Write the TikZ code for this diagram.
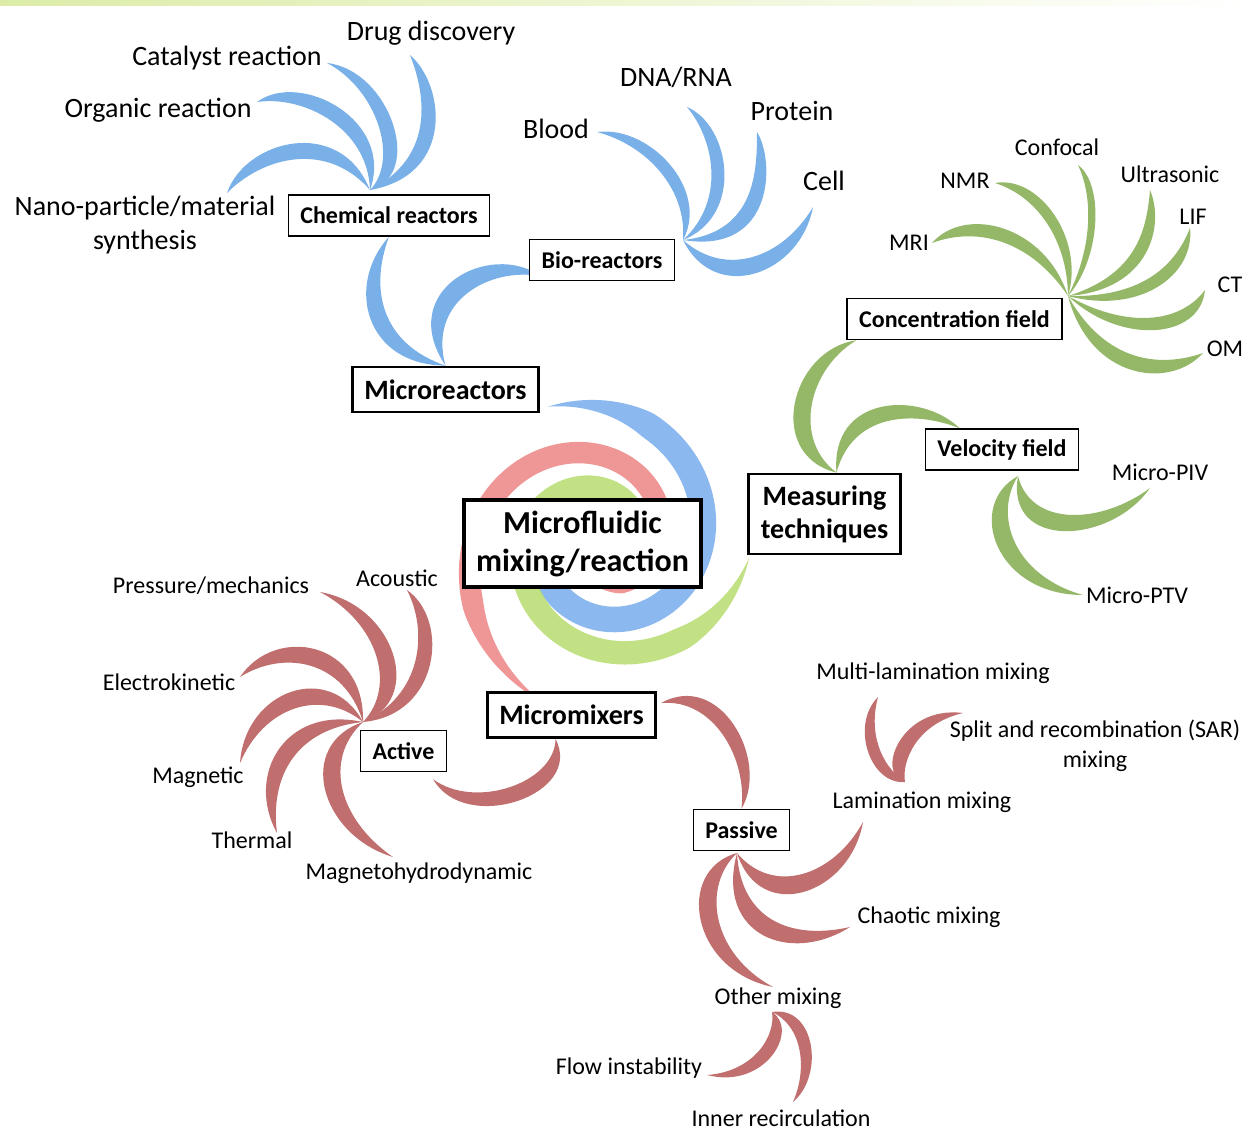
\documentclass[tikz,border=0pt]{standalone}
\usepackage{fontspec}
\setmainfont{Carlito}
\usetikzlibrary{calc,backgrounds}
\definecolor{bluearm}{RGB}{122,176,232}
\definecolor{greenarm}{RGB}{148,184,104}
\definecolor{redarm}{RGB}{192,110,110}
\definecolor{spblue}{RGB}{118,172,236}
\definecolor{spred}{RGB}{236,132,132}
\definecolor{spgreen}{RGB}{182,220,110}
\definecolor{band}{RGB}{220,236,168}
% crescent: [pull of inner edge]{colour}{tip}{control}{control}{hub}
\newcommand\arm[6][.33]{%
  \coordinate (armtip) at #3; \coordinate (armhub) at #6;
  \coordinate (armmid) at ($(armtip)!.5!(armhub)$);
  \fill[#2] (armtip) .. controls #4 and #5 .. (armhub)
    .. controls ($#5!#1!(armmid)$) and ($#4!#1!(armmid)$) .. (armtip) -- cycle;}
% spiral band: {colour}{start angle}{sweep}{start radius}{decay}{width}{taper}
\newcommand\strand[7]{%
  \fill[#1,opacity=.85] plot[domain=0:1,samples=140,variable=\t] ({#2-#3*\t}:{#4*exp(-#5*#3*\t)+#6*min(1,\t/#7,(1-\t)/#7)/2})
    -- plot[domain=1:0,samples=140,variable=\t] ({#2-#3*\t}:{#4*exp(-#5*#3*\t)-#6*min(1,\t/#7,(1-\t)/#7)/2}) -- cycle;}
\begin{document}
\begin{tikzpicture}[x=0.5pt,y=-0.5pt,every node/.style={align=center},
  lbl/.style={font=\fontsize{12}{15}\selectfont,inner sep=0pt},
  biglbl/.style={font=\fontsize{14}{17}\selectfont,inner sep=0pt},
  box/.style={draw,line width=.75pt,fill=white,font=\bfseries\fontsize{12}{15}\selectfont,inner xsep=6pt,minimum height=20.5pt},
  bigbox/.style={box,line width=1.4pt,font=\bfseries\fontsize{14}{16.5}\selectfont,minimum height=22.5pt}]
\useasboundingbox (0,0) rectangle (1249,1132);
\shade[left color=band,right color=white] (0,0) rectangle (1249,5);

\node[biglbl] (drug) at (431,33) {Drug discovery};
\node[biglbl] (cat) at (227,58) {Catalyst reaction};
\node[biglbl] (org) at (158,110) {Organic reaction};
\node[biglbl] (nano) at (145,225) {Nano-particle/material\\synthesis};
\node[biglbl] (dna) at (676,77) {DNA/RNA};
\node[biglbl] (blood) at (556,129) {Blood};
\node[biglbl] (prot) at (792,111) {Protein};
\node[biglbl] (cell) at (824,181) {Cell};
\node[lbl] (conf) at (1057,147) {Confocal};
\node[lbl] (nmr) at (965,181) {NMR};
\node[lbl] (ultra) at (1170,174) {Ultrasonic};
\node[lbl] (lif) at (1193,217) {LIF};
\node[lbl] (mri) at (909,243) {MRI};
\node[lbl] (ct) at (1230,285) {CT};
\node[lbl] (om) at (1225,349) {OM};
\node[lbl] (piv) at (1160,472) {Micro-PIV};
\node[lbl] (ptv) at (1137,595) {Micro-PTV};
\node[lbl] (press) at (211,586) {Pressure/mechanics};
\node[lbl] (acou) at (397,578) {Acoustic};
\node[lbl] (elec) at (169,682) {Electrokinetic};
\node[lbl] (magn) at (198,777) {Magnetic};
\node[lbl] (therm) at (252,840) {Thermal};
\node[lbl] (mhd) at (419,873) {Magnetohydrodynamic};
\node[lbl] (multi) at (933,673) {Multi-lamination mixing};
\node[lbl] (sar) at (1095,746) {Split and recombination (SAR)\\mixing};
\node[lbl] (lam) at (922,802) {Lamination mixing};
\node[lbl] (chaos) at (929,917) {Chaotic mixing};
\node[lbl] (other) at (778,998) {Other mixing};
\node[lbl] (flow) at (629,1068) {Flow instability};
\node[lbl] (inner) at (781,1118) {Inner recirculation};

\node[box] (chem) at (389,215.5) {Chemical reactors};
\node[box] (bio) at (602,260) {Bio-reactors};
\node[bigbox] (micro) at (445.5,389.5) {Microreactors};
\node[bigbox,line width=1.6pt,font=\bfseries\fontsize{16}{19}\selectfont,minimum width=116.5pt,minimum height=43.5pt] (core) at (582.5,543.5) {Microfluidic\\mixing/reaction};
\node[bigbox,minimum height=40pt] (meas) at (824.5,514) {Measuring\\techniques};
\node[box] (conc) at (954.5,319) {Concentration field};
\node[box] (vel) at (1002,449.5) {Velocity field};
\node[box] (active) at (403.5,751) {Active};
\node[bigbox] (mixers) at (571.5,715) {Micromixers};
\node[box] (passive) at (741.5,830) {Passive};

\coordinate (hchem) at (370,190); \coordinate (hbio) at (683,240);
\coordinate (hconc) at (1068,296); \coordinate (hvel) at (1018,476);
\coordinate (hact) at (363,722); \coordinate (hpass) at (737,853);
\coordinate (hother) at (772,1012); \coordinate (hlam) at (905,782);

\begin{scope}[on background layer]
\begin{scope}[shift={(600,542)},yscale=-1]
\strand{spblue}{111}{360}{145}{.0032}{26}{.12}
\strand{spgreen}{-6}{360}{150}{.0039}{24}{.12}
\strand{spred}{250}{360}{170}{.0042}{22}{.12}
\end{scope}

\arm{bluearm}{(410,55)}{(445,85)}{(455,175)}{(hchem)}
\arm{bluearm}{(327,63)}{(390,70)}{(425,175)}{(hchem)}
\arm{bluearm}{(257,102)}{(300,70)}{(395,120)}{(hchem)}
\arm{bluearm}{(227,193)}{(245,140)}{(340,115)}{(hchem)}
\arm{bluearm}{(chem.south)}{(345,285)}{(365,365)}{(micro.north)}
\arm{bluearm}{($(bio.south west)+(12,-5)$)}{(490,240)}{(395,290)}{(micro.north)}
\arm{bluearm}{(597,132)}{(650,125)}{(710,190)}{(hbio)}
\arm{bluearm}{(687,107)}{(730,125)}{(745,215)}{(hbio)}
\arm{bluearm}{(757,132)}{(775,160)}{(775,255)}{(hbio)}
\arm{bluearm}{(813,207)}{(800,275)}{(715,305)}{(hbio)}

\arm{greenarm}{(932,243)}{(965,205)}{(1045,225)}{(hconc)}
\arm{greenarm}{(995,183)}{(1040,175)}{(1085,240)}{(hconc)}
\arm{greenarm}{(1078,165)}{(1105,185)}{(1100,260)}{(hconc)}
\arm{greenarm}{(1150,190)}{(1165,225)}{(1150,290)}{(hconc)}
\arm{greenarm}{(1190,228)}{(1195,275)}{(1140,315)}{(hconc)}
\arm{greenarm}{(1205,290)}{(1200,340)}{(1120,345)}{(hconc)}
\arm{greenarm}{(1203,353)}{(1170,390)}{(1090,380)}{(hconc)}
\arm{greenarm}{($(conc.south west)+(10,0)$)}{(790,350)}{(765,455)}{($(meas.north)+(12,0)$)}
\arm{greenarm}{($(vel.north west)+(35,0)$)}{(920,390)}{(830,395)}{($(meas.north)+(12,0)$)}
\arm{greenarm}{(1150,488)}{(1110,545)}{(1005,550)}{(hvel)}
\arm{greenarm}{(1083,595)}{(995,595)}{(965,505)}{(hvel)}

\arm{redarm}{(320,592)}{(395,605)}{(425,700)}{(hact)}
\arm{redarm}{(407,590)}{(450,620)}{(440,715)}{(hact)}
\arm{redarm}{(240,677)}{(275,625)}{(365,640)}{(hact)}
\arm{redarm}{(240,763)}{(245,690)}{(330,660)}{(hact)}
\arm{redarm}{(277,833)}{(245,775)}{(285,705)}{(hact)}
\arm{redarm}{(393,857)}{(320,835)}{(295,745)}{(hact)}
\arm{redarm}{($(active.south east)+(-14,7)$)}{(465,835)}{(585,795)}{($(mixers.south)+(-16,0)$)}
\arm{redarm}{($(mixers.east)+(4,-12)$)}{(720,670)}{(770,760)}{(passive.north)}
\arm{redarm}{(863,822)}{(850,895)}{(760,925)}{(hpass)}
\arm{redarm}{(850,927)}{(790,965)}{(715,935)}{(hpass)}
\arm{redarm}{(773,987)}{(690,970)}{(675,870)}{(hpass)}
\arm[.4]{redarm}{(707,1075)}{(765,1090)}{(800,1030)}{(hother)}
\arm[.4]{redarm}{(793,1102)}{(825,1075)}{(815,1005)}{(hother)}
\arm[.45]{redarm}{(878,697)}{(850,725)}{(870,785)}{(hlam)}
\arm[.45]{redarm}{(963,713)}{(900,705)}{(875,775)}{(hlam)}
\end{scope}
\end{tikzpicture}
\end{document}
